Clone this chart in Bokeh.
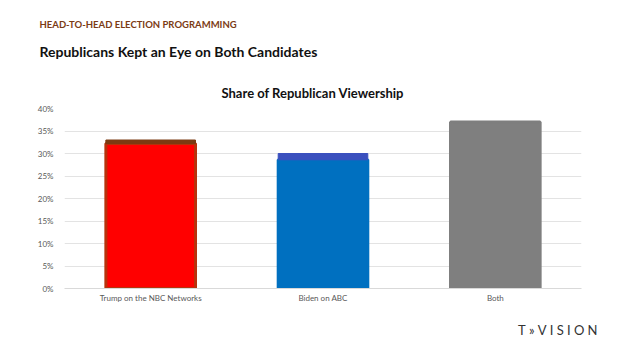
from bokeh.plotting import figure
from bokeh.models import ColumnDataSource, Title, NumeralTickFormatter, FixedTicker, Range1d
from bokeh.embed import file_html
from bokeh.resources import INLINE

categories = ["Trump on the NBC Networks", "Biden on ABC", "Both"]
share_total = [0.330, 0.300, 0.370]
share_base = [0.322, 0.286, 0.370]
base_colors = ["#FF0000", "#0070C0", "#7F7F7F"]
edge_colors = ["#B8320C", "#0070C0", "#7F7F7F"]
top_colors = ["#7A3A12", "#3B50BE", "#7F7F7F"]
y_ticks = [0, 0.05, 0.10, 0.15, 0.20, 0.25, 0.30, 0.35, 0.40]

FONT = "Lato"

p = figure(width=627, height=352, x_range=categories, y_range=Range1d(0, 0.40),
           output_backend="svg", toolbar_location=None, title=None,
           min_border_left=64, min_border_right=46, min_border_top=108, min_border_bottom=63)
p.outline_line_color = None
p.background_fill_color = "white"
p.border_fill_color = "white"

src = ColumnDataSource(dict(cat=categories, total=share_total, base=share_base,
                            bc=base_colors, ec=edge_colors, tc=top_colors))
p.vbar(x="cat", top="base", bottom=0, width=0.52, fill_color="bc", line_color="ec", line_width=3, source=src)
p.vbar(x="cat", top="total", bottom="base", width=0.52, fill_color="tc", line_color="tc", line_width=1, source=src)

p.xgrid.grid_line_color = None
p.ygrid.grid_line_color = "#E3E3E3"
p.ygrid.ticker = FixedTicker(ticks=y_ticks)
p.yaxis.ticker = FixedTicker(ticks=y_ticks)
p.yaxis.formatter = NumeralTickFormatter(format="0%")
p.yaxis.axis_line_color = None
p.yaxis.major_tick_line_color = None
p.yaxis.minor_tick_line_color = None
p.yaxis.major_label_text_font = FONT
p.yaxis.major_label_text_font_size = "8px"
p.yaxis.major_label_text_color = "#595959"
p.yaxis.major_label_standoff = 5

p.xaxis.axis_line_color = "#D9D9D9"
p.xaxis.major_tick_line_color = None
p.xaxis.minor_tick_line_color = None
p.xaxis.major_tick_out = 0
p.xaxis.major_tick_in = 0
p.xaxis.major_label_text_font = FONT
p.xaxis.major_label_text_font_size = "8px"
p.xaxis.major_label_text_color = "#595959"
p.xaxis.major_label_standoff = 4

def add_title(text, place, size, color, align, offset, standoff, style="bold", valign="bottom"):
    p.add_layout(Title(text=text, align=align, offset=offset, standoff=standoff,
                       vertical_align=valign,
                       text_font=FONT, text_font_size=size, text_color=color,
                       text_font_style=style), place)

# added in order from the frame outward
add_title("Share of Republican Viewership", "above", "13px", "#111111", "left", 157, 15)
add_title("Republicans Kept an Eye on Both Candidates", "above", "14px", "#111111", "left", -25, 31)
add_title("HEAD-TO-HEAD ELECTION PROGRAMMING", "above", "9.5px", "#7B3B14", "left", -25, -9)
add_title("T\u2009\u2009\u00BB\u2009\u2009V\u2009\u2009I\u2009\u2009S\u2009\u2009I\u2009\u2009O\u2009\u2009N",
          "below", "13px", "#333333", "right", -16, 29, style="normal")

open("out.html", "w").write(file_html(p, INLINE))
